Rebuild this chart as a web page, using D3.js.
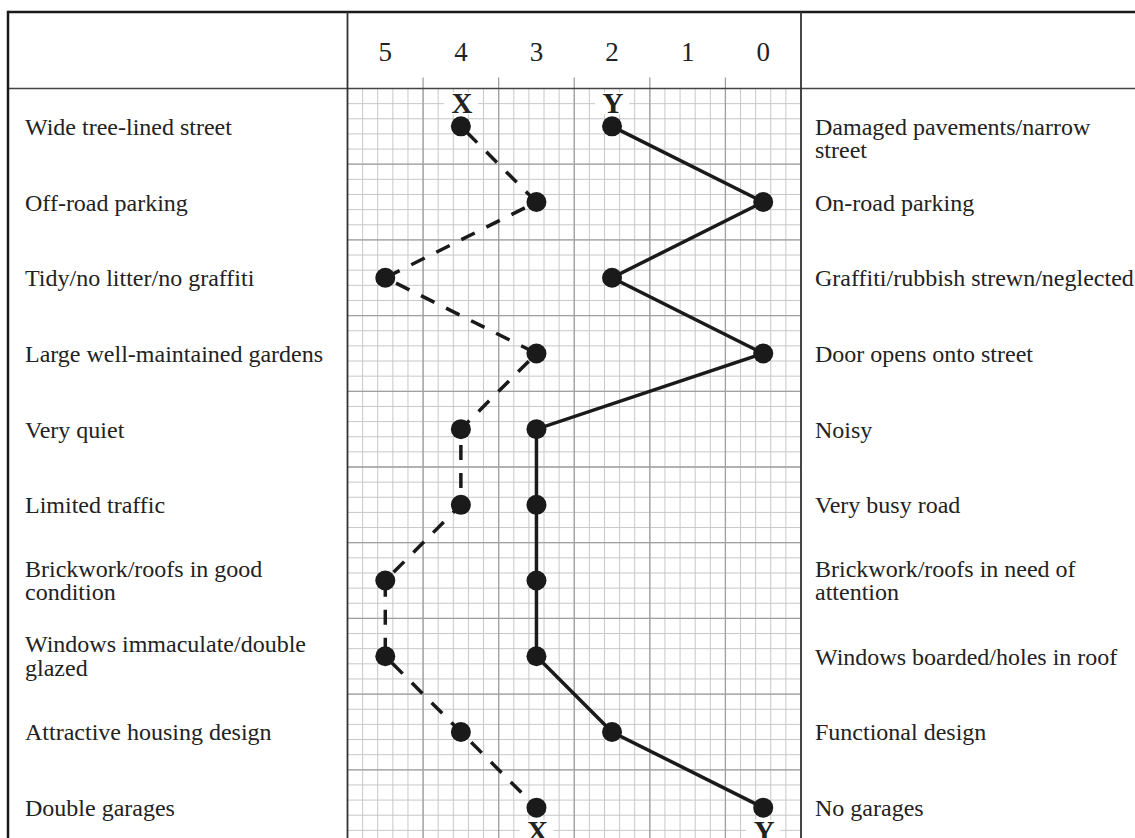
<!DOCTYPE html>
<html>
<head>
<meta charset="utf-8">
<script src="https://cdn.jsdelivr.net/npm/d3@7"></script>
<style>
  body { margin: 0; background: #fff; }
  svg { display: block; }
  text { font-family: "Liberation Serif", "Times New Roman", serif; fill: #222; }
</style>
</head>
<body>
<div id="chart"></div>
<script>
// data
const scaleTicks = [5, 4, 3, 2, 1, 0];
const leftLabels = [
  "Wide tree-lined street",
  "Off-road parking",
  "Tidy/no litter/no graffiti",
  "Large well-maintained gardens",
  "Very quiet",
  "Limited traffic",
  "Brickwork/roofs in good\ncondition",
  "Windows immaculate/double\nglazed",
  "Attractive housing design",
  "Double garages"
];
const rightLabels = [
  "Damaged pavements/narrow\nstreet",
  "On-road parking",
  "Graffiti/rubbish strewn/neglected",
  "Door opens onto street",
  "Noisy",
  "Very busy road",
  "Brickwork/roofs in need of\nattention",
  "Windows boarded/holes in roof",
  "Functional design",
  "No garages"
];
const scoresX = [4, 3, 5, 3, 4, 4, 5, 5, 4, 3];
const scoresY = [2, 0, 2, 0, 3, 3, 3, 3, 2, 0];

const W = 1135, H = 838;
const outerLeft = 8, outerTop = 12;
const gridLeft = 347.5, gridRight = 801, headTop = 88.5;
const rowH = 75.7;
const ink = "#1a1a1a";

var svg = d3.select("#chart").append("svg")
    .attr("width", W)
    .attr("height", H);

// scales: score columns centred in the grid, one band per row
var x = d3.scaleLinear().domain([5.5, -0.5]).range([gridLeft, gridRight]);
var rows = d3.range(leftLabels.length);
var y = d3.scaleBand().domain(rows).range([headTop, headTop + rowH * rows.length]);
var yc = function(i) { return y(i) + y.bandwidth() / 2; };
var gridBottom = headTop + rowH * rows.length;

// minor grid
var g = svg.append("g");
var minorX = d3.range(-0.5, 5.5001, 0.2);
g.selectAll(".vminor").data(minorX).enter().append("line")
    .attr("x1", d => x(d)).attr("x2", d => x(d))
    .attr("y1", headTop).attr("y2", gridBottom)
    .attr("stroke", "#c8c8c8").attr("stroke-width", 1);
var minorY = d3.range(0, rows.length * 5 + 1).map(k => headTop + k * rowH / 5);
g.selectAll(".hminor").data(minorY).enter().append("line")
    .attr("x1", gridLeft).attr("x2", gridRight)
    .attr("y1", d => d).attr("y2", d => d)
    .attr("stroke", "#c8c8c8").attr("stroke-width", 1);

// major grid, vertical ones poke up into the header as ticks
var majorX = d3.range(0.5, 5.5, 1);
g.selectAll(".vmajor").data(majorX).enter().append("line")
    .attr("x1", d => x(d)).attr("x2", d => x(d))
    .attr("y1", headTop - 11).attr("y2", gridBottom)
    .attr("stroke", "#a0a0a0").attr("stroke-width", 1.3);
g.selectAll(".hmajor").data(rows.slice(1)).enter().append("line")
    .attr("x1", gridLeft).attr("x2", gridRight)
    .attr("y1", d => y(d)).attr("y2", d => y(d))
    .attr("stroke", "#a0a0a0").attr("stroke-width", 1.3);

// table borders
svg.append("line").attr("x1", outerLeft).attr("x2", W).attr("y1", outerTop).attr("y2", outerTop)
    .attr("stroke", ink).attr("stroke-width", 2.5);
svg.append("line").attr("x1", outerLeft).attr("x2", W).attr("y1", headTop).attr("y2", headTop)
    .attr("stroke", "#444").attr("stroke-width", 1.6);
svg.append("line").attr("x1", outerLeft).attr("x2", outerLeft).attr("y1", outerTop - 1.2).attr("y2", H)
    .attr("stroke", ink).attr("stroke-width", 2.5);
[gridLeft, gridRight].forEach(function(px) {
    svg.append("line").attr("x1", px).attr("x2", px).attr("y1", outerTop).attr("y2", H)
        .attr("stroke", "#333").attr("stroke-width", 1.8);
});

// header numbers
svg.selectAll(".tick-label").data(scaleTicks).enter().append("text")
    .attr("x", d => x(d))
    .attr("y", 61)
    .attr("text-anchor", "middle")
    .style("font-size", "27px")
    .text(d => d);

// row labels, left and right
function drawLabels(labels, px) {
    labels.forEach(function(lab, i) {
        var lines = lab.split("\n");
        var base = yc(i) + 8.5;
        if (lines.length > 1 && i > 0) base = yc(i) - 4;
        var t = svg.append("text")
            .attr("x", px)
            .attr("y", base)
            .style("font-size", "24px");
        lines.forEach(function(l, j) {
            t.append("tspan").attr("x", px).attr("dy", j === 0 ? 0 : 23.5).text(l);
        });
    });
}
drawLabels(leftLabels, 25);
drawLabels(rightLabels, 815);

// profile lines
var line = function(vals) {
    return d3.line()
        .x(function(d) { return x(d); })
        .y(function(d, i) { return yc(i); })(vals);
};
svg.append("path")
    .attr("d", line(scoresX))
    .attr("fill", "none")
    .attr("stroke", ink)
    .attr("stroke-width", 3.5)
    .attr("stroke-dasharray", "15,13")
    .attr("stroke-dashoffset", -8);
svg.append("path")
    .attr("d", line(scoresY))
    .attr("fill", "none")
    .attr("stroke", ink)
    .attr("stroke-width", 3.5);

// dots
[scoresX, scoresY].forEach(function(vals) {
    svg.append("g").selectAll("circle").data(vals).enter().append("circle")
        .attr("cx", d => x(d))
        .attr("cy", (d, i) => yc(i))
        .attr("r", 10)
        .attr("fill", ink);
});

// series letters at the start and end of each profile
var n = rows.length - 1;
var tags = [
    {name: "X", v: scoresX[0], yy: yc(0) - 13},
    {name: "Y", v: scoresY[0], yy: yc(0) - 13},
    {name: "X", v: scoresX[n], yy: yc(n) + 33},
    {name: "Y", v: scoresY[n], yy: yc(n) + 33}
];
tags.forEach(function(t) {
    svg.append("rect")
        .attr("x", x(t.v) - 17)
        .attr("y", t.yy - 21)
        .attr("width", 34)
        .attr("height", 22)
        .attr("fill", "#fff");
    svg.append("text")
        .attr("x", x(t.v) + 1)
        .attr("y", t.yy)
        .attr("text-anchor", "middle")
        .style("font-size", "29px")
        .style("font-weight", "bold")
        .text(t.name);
});
</script>
</body>
</html>
